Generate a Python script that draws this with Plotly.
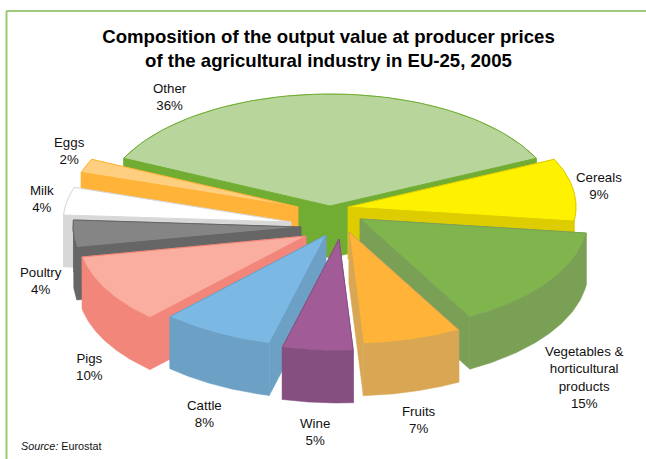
import math
import plotly.graph_objects as go

# ---- data ----
categories = ["Other", "Cereals", "Vegetables &<br>horticultural<br>products", "Fruits", "Wine",
              "Cattle", "Pigs", "Poultry", "Milk", "Eggs"]
shares = [36, 9, 15, 7, 5, 8, 10, 4, 4, 2]

# ---- styling ----
top_colors = ["#B8D59B", "#FFF200", "#80B54E", "#FFB338", "#A15C97",
              "#7CB8E4", "#F9AE9F", "#858585", "#FFFFFF", "#FFCF80"]
side_colors = ["#70AD32", "#DDCC00", "#7AA056", "#D9A654", "#854F80",
               "#6CA0C5", "#F2867A", "#666666", "#D8D8D8", "#FFB338"]
explode_centres = [(330, 206), (348, 207), (360, 219), (349, 232), (339, 239),
                   (326, 235), (306, 236), (301, 227), (291, 222), (298, 207)]
label_centres = [(170, 97), (599, 186), (584, 377), (419, 420), (315, 432),
                 (204, 414), (89, 367), (41, 281), (42, 199), (69, 151)]
draw_order = [0, 9, 8, 1, 7, 2, 6, 3, 5, 4]
RX, RY, DEPTH = 228, 112, 52
FIRST_ANGLE = -shares[0] * 3.6 / 2

W, H = 646, 459
fig = go.Figure()

# slice angles follow from the shares
edges = [FIRST_ANGLE]
for s in shares:
    edges.append(edges[-1] + s * 3.6)


def arc(i, n=60):
    cx, cy = explode_centres[i]
    a0, a1 = edges[i], edges[i + 1]
    xs, ys = [], []
    for k in range(n + 1):
        a = math.radians(a0 + (a1 - a0) * k / n)
        xs.append(cx + RX * math.sin(a))
        ys.append(cy - RY * math.cos(a))
    return xs, ys


def poly(xs, ys, fill, line, width=0.0, name=None):
    fig.add_trace(go.Scatter(x=xs, y=ys, mode="lines", fill="toself", fillcolor=fill,
                             line=dict(color=line, width=width), hoverinfo="skip",
                             showlegend=False, name=name))


for i in draw_order:
    cx, cy = explode_centres[i]
    xs, ys = arc(i)
    side, top = side_colors[i], top_colors[i]
    # cut faces
    poly([cx, xs[0], xs[0], cx, cx], [cy, ys[0], ys[0] + DEPTH, cy + DEPTH, cy], side, side, 0.5)
    poly([cx, xs[-1], xs[-1], cx, cx], [cy, ys[-1], ys[-1] + DEPTH, cy + DEPTH, cy], side, side, 0.5)
    # outer rim
    poly(xs + xs[::-1] + [xs[0]], ys + [y + DEPTH for y in ys[::-1]] + [ys[0]], side, side, 0.5)
    # top surface
    poly([cx] + xs + [cx], [cy] + ys + [cy], top, side, 1.0, name=categories[i].replace("<br>", " "))

annotations = []
for c, s, (lx, ly) in zip(categories, shares, label_centres):
    annotations.append(dict(x=lx, y=ly, xref="x", yref="y", text=f"{c}<br>{s}%", showarrow=False,
                            font=dict(family="Liberation Sans", size=13.3, color="#111111"),
                            xanchor="center", yanchor="middle", align="center"))
annotations.append(dict(x=19, y=446, xref="x", yref="y", text="<i>Source:</i> Eurostat", showarrow=False,
                        font=dict(family="Liberation Sans", size=10.8, color="#111111"),
                        xanchor="left", yanchor="middle"))

fig.update_layout(
    width=W, height=H,
    margin=dict(l=0, r=0, t=0, b=0),
    paper_bgcolor="white", plot_bgcolor="white",
    showlegend=False,
    title=dict(text="<b>Composition of the output value at producer prices<br>"
                    "of the agricultural industry in EU-25, 2005</b>",
               x=328.5 / W, xanchor="center", xref="container", y=1 - 43 / H, yanchor="middle", yref="container",
               font=dict(family="Liberation Sans", size=18.6, color="black")),
    xaxis=dict(range=[0, W], visible=False, fixedrange=True),
    yaxis=dict(range=[H, 0], visible=False, fixedrange=True),
    annotations=annotations,
    shapes=[
        dict(type="line", xref="x", yref="y", x0=6.5, x1=6.5, y0=11, y1=H, line=dict(color="#9CCB6E", width=2)),
        dict(type="line", xref="x", yref="y", x0=6.5, x1=W, y0=11, y1=11, line=dict(color="#7FB850", width=1.5)),
    ],
)
fig.write_html("out.html", config=dict(displayModeBar=False),
               post_script="document.body.style.margin='0';document.documentElement.style.overflow='hidden';")
